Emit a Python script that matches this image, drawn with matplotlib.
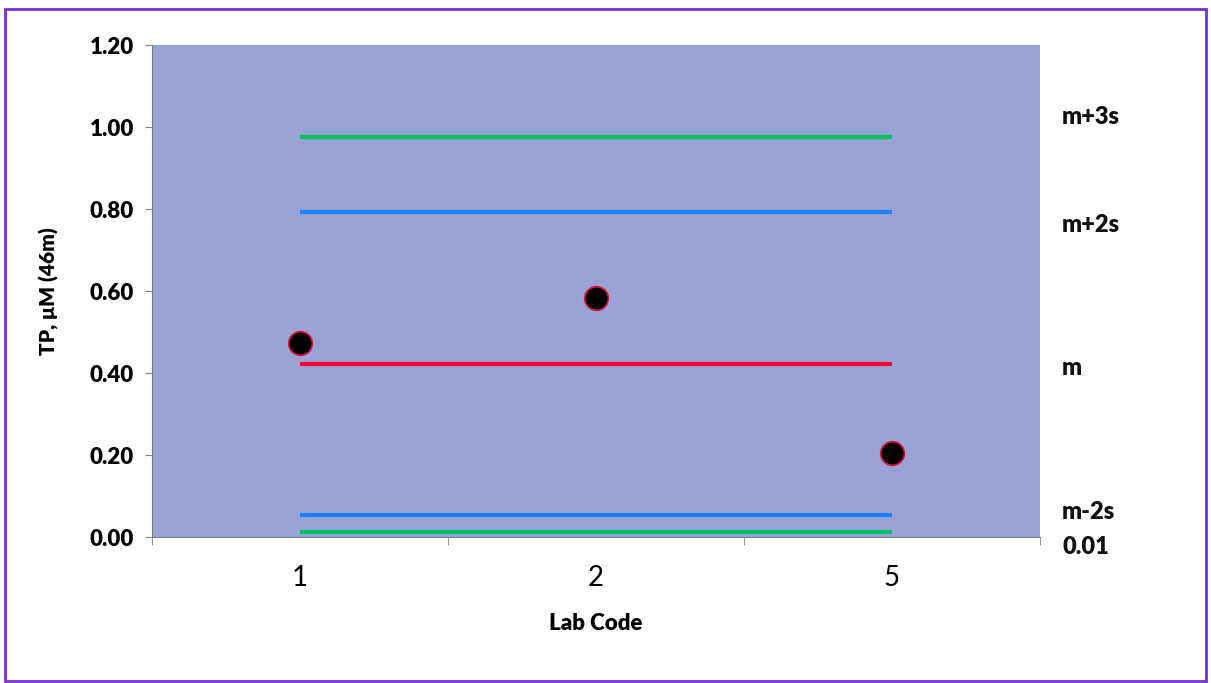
import matplotlib
matplotlib.use("Agg")
from matplotlib import pyplot as plt
from matplotlib.patches import Rectangle

# data
lab_codes = ["1", "2", "5"]
tp_values = [0.473, 0.583, 0.205]
level_names = ["m+3s", "m+2s", "m", "m-2s", "0.01"]
level_values = [0.976, 0.792, 0.422, 0.054, 0.012]
level_colors = ["#00c060", "#1e80ff", "#ff0033", "#1e80ff", "#00c060"]
y_ticks = [0.0, 0.2, 0.4, 0.6, 0.8, 1.0, 1.2]

plt.rcParams['font.family'] = ['Lato', 'DejaVu Sans']

fig = plt.figure(figsize=(12.11, 6.83), dpi=100)
ax = fig.add_axes([152 / 1211, 146 / 683, 888 / 1211, 492 / 683])
ax.set_facecolor("#99a3d5")

xpos = [i + 0.5 for i in range(len(lab_codes))]

# control lines across the labs
for val, col in zip(level_values, level_colors):
    ax.plot([xpos[0], xpos[-1]], [val, val], color=col, lw=3, solid_capstyle='butt', zorder=2)

ax.plot(xpos, tp_values, 'o', ms=17, markerfacecolor='black', markeredgecolor='#e0103a',
        markeredgewidth=1.2, linestyle='none', zorder=3)

# labels on the right
label_offsets = [0.048, -0.03, -0.01, 0.007, -0.036]
for name, val, off in zip(level_names, level_values, label_offsets):
    ax.text(1.025, val + off, name, transform=ax.get_yaxis_transform(), fontsize=17,
            fontweight='heavy', va='center', ha='left', color='#111111')

ax.set_xlim(0, 3)
ax.set_ylim(0, 1.2)
ax.set_yticks(y_ticks)
ax.set_yticklabels([f"{t:.2f}" for t in y_ticks], fontsize=16, fontweight='heavy')
ax.set_xticks(xpos)
ax.set_xticklabels(lab_codes, fontsize=20)
ax.set_xticks([0, 1, 2, 3], minor=True)
ax.tick_params(axis='x', which='major', length=0, pad=20)
ax.tick_params(axis='x', which='minor', length=6, color='#808080')
ax.tick_params(axis='y', length=5, color='#808080', pad=8)

for s in ['top', 'right']:
    ax.spines[s].set_visible(False)
for s in ['left', 'bottom']:
    ax.spines[s].set_color('#808080')

ax.set_xlabel("Lab Code", fontsize=16, fontweight='heavy', labelpad=16)
ax.set_ylabel("TP, μM (46m)", fontsize=15, fontweight='heavy', labelpad=22)

fig.patches.append(Rectangle((5 / 1211, 2 / 683), 1201 / 1211, 672 / 683, transform=fig.transFigure,
                             fill=False, edgecolor='#7b2fd6', lw=2))

plt.savefig("out.png", dpi=100)
